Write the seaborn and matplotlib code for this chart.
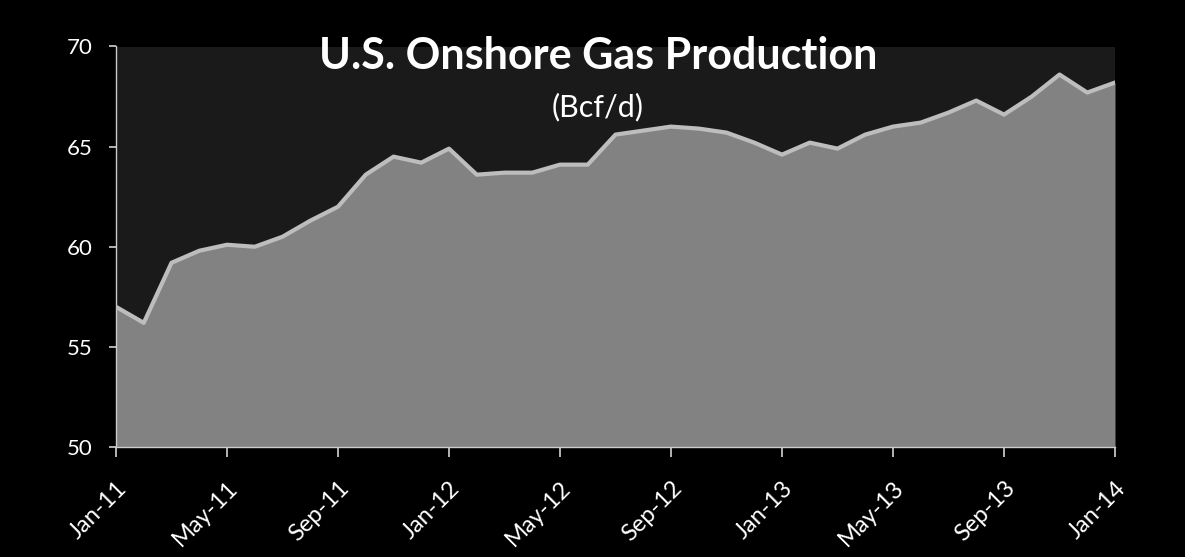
import matplotlib
matplotlib.use("Agg")
import matplotlib.pyplot as plt
import seaborn as sns
import pandas as pd
import numpy as np

production = [57.0, 56.2, 59.2, 59.8, 60.1, 60.0, 60.5, 61.3, 62.0, 63.6,
              64.5, 64.2, 64.9, 63.6, 63.7, 63.7, 64.1, 64.1, 65.6, 65.8,
              66.0, 65.9, 65.7, 65.2, 64.6, 65.2, 64.9, 65.6, 66.0, 66.2,
              66.7, 67.3, 66.6, 67.5, 68.6, 67.7, 68.2]
tick_labels = ["Jan-11", "May-11", "Sep-11", "Jan-12", "May-12", "Sep-12",
               "Jan-13", "May-13", "Sep-13", "Jan-14"]
y_ticks = [50, 55, 60, 65, 70]
title = "U.S. Onshore Gas Production"
subtitle = "(Bcf/d)"

df = pd.DataFrame({"idx": np.arange(len(production)), "value": production})

sns.set_theme(style="dark")
plt.rcParams["font.family"] = ["Lato", "DejaVu Sans"]

fig = plt.figure(figsize=(11.85, 5.57), dpi=100, facecolor="black")
ax = fig.add_axes([116 / 1185, 1 - 447 / 557, (1115 - 116) / 1185, (447 - 46.5) / 557])
ax.set_facecolor("#1a1a1a")

ax.fill_between(df["idx"], 50, df["value"], color="#828282", linewidth=0, zorder=2)
sns.lineplot(data=df, x="idx", y="value", ax=ax, color="#bdbdbd", linewidth=3, zorder=3)

ax.set_xlim(0, len(production) - 1)
ax.set_ylim(50, 70)
ax.set_yticks(y_ticks)
ax.set_yticklabels([str(v) for v in y_ticks], color="white", fontsize=16)
ax.set_xticks(np.arange(0, len(production), 4))
ax.set_xticklabels(tick_labels, rotation=45, ha="right", rotation_mode="anchor",
                   color="white", fontsize=17)
ax.set_xlabel("")
ax.set_ylabel("")
ax.grid(False)

for side in ["top", "right"]:
    ax.spines[side].set_visible(False)
for side in ["left", "bottom"]:
    ax.spines[side].set_visible(True)
    ax.spines[side].set_color("#cccccc")
    ax.spines[side].set_linewidth(1)
ax.tick_params(axis="both", which="both", direction="out", length=5, color="#cccccc",
               bottom=True, left=True)
ax.tick_params(axis="y", pad=12)
ax.tick_params(axis="x", pad=15, length=7)

fig.text(598 / 1185, 1 - 56 / 557, title, ha="center", va="center", color="white",
         fontsize=31, fontweight="bold")
fig.text(598 / 1185, 1 - 107 / 557, subtitle, ha="center", va="center", color="white",
         fontsize=22)

fig.savefig("out.png", dpi=100, facecolor="black")
